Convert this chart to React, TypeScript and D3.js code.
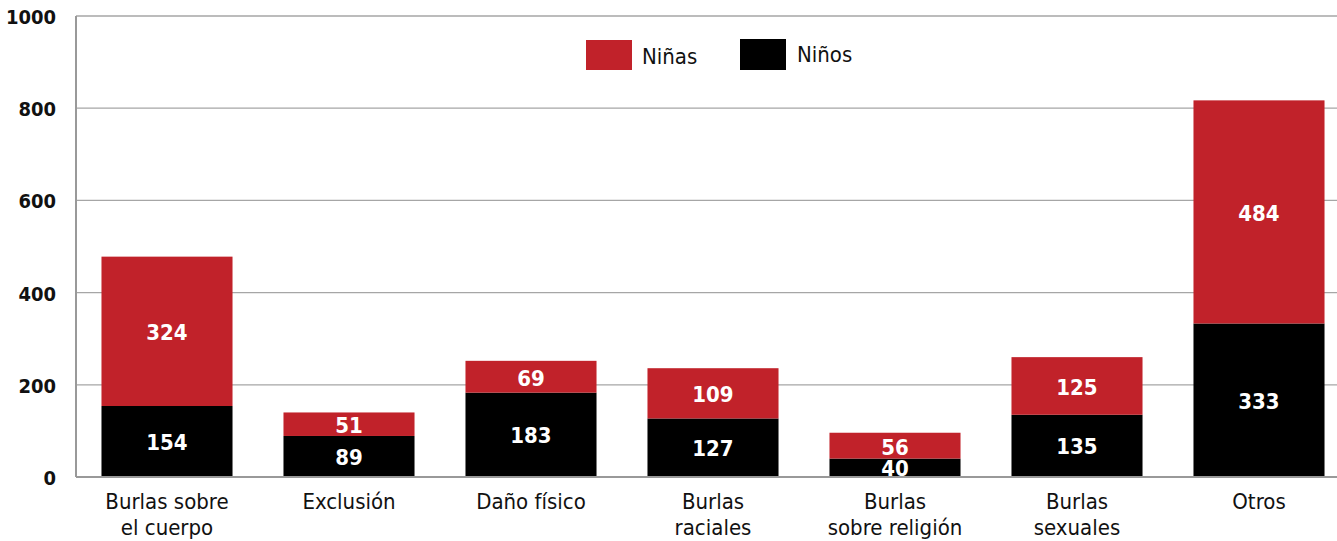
import React from "react";
import * as d3 from "d3";

const categories = [
  ["Burlas sobre", "el cuerpo"],
  ["Exclusión"],
  ["Daño físico"],
  ["Burlas", "raciales"],
  ["Burlas", "sobre religión"],
  ["Burlas", "sexuales"],
  ["Otros"],
];
const ninos = [154, 89, 183, 127, 40, 135, 333];
const ninas = [324, 51, 69, 109, 56, 125, 484];
const yTicks = [0, 200, 400, 600, 800, 1000];
const seriesNames = ["Niñas", "Niños"];

const W = 1337;
const H = 541;
const RED = "#c1222a";
const FONT = "'DejaVu Sans Condensed', 'Liberation Sans Narrow', sans-serif";

export default function App() {
  const x = d3
    .scaleBand<number>()
    .domain(d3.range(categories.length))
    .range([76, 1350])
    .paddingInner(0.28)
    .paddingOuter(0.14);
  const y = d3.scaleLinear().domain([0, 1000]).range([477, 16]);

  return (
    <svg
      width={W}
      height={H}
      style={{ position: "absolute", left: 0, top: 0, display: "block" }}
      fontFamily={FONT}
    >
      {yTicks.map((t) => (
        <g key={t}>
          {t > 0 && (
            <line x1={76} x2={W} y1={y(t)} y2={y(t)} stroke="#a6a6a6" strokeWidth={1.3} />
          )}
          <text
            x={56}
            y={y(t) + 1}
            dy="0.35em"
            textAnchor="end"
            fontSize={20}
            fontWeight="bold"
            fill="#111"
          >
            {t}
          </text>
        </g>
      ))}
      <line x1={76} x2={76} y1={y(1000)} y2={y(0)} stroke="#999" strokeWidth={2} />
      {categories.map((c, i) => {
        const x0 = x(i)!;
        const bw = x.bandwidth();
        const yb = y(ninos[i]);
        const yt = y(ninos[i] + ninas[i]);
        return (
          <g key={i}>
            <rect x={x0} y={yb} width={bw} height={y(0) - yb} fill="#000" />
            <rect x={x0} y={yt} width={bw} height={yb - yt} fill={RED} />
            <text
              x={x0 + bw / 2}
              y={(yb + y(0)) / 2}
              dy="0.38em"
              textAnchor="middle"
              fill="#fff"
              fontSize={22}
              fontWeight="bold"
            >
              {ninos[i]}
            </text>
            <text
              x={x0 + bw / 2}
              y={(yt + yb) / 2 + 1}
              dy="0.36em"
              textAnchor="middle"
              fill="#fff"
              fontSize={22}
              fontWeight="bold"
            >
              {ninas[i]}
            </text>
            {c.map((line, j) => (
              <text
                key={j}
                x={x0 + bw / 2}
                y={509 + j * 26}
                textAnchor="middle"
                fontSize={22}
                fill="#111"
              >
                {line}
              </text>
            ))}
          </g>
        );
      })}
      <line x1={76} x2={W} y1={y(0)} y2={y(0)} stroke="#999" strokeWidth={2} />
      <rect x={586} y={40} width={46} height={30} fill={RED} />
      <text x={642} y={56} dy="0.35em" fontSize={22} fill="#111">
        {seriesNames[0]}
      </text>
      <rect x={740} y={39} width={46} height={31} fill="#000" />
      <text x={797} y={54} dy="0.35em" fontSize={22} fill="#111">
        {seriesNames[1]}
      </text>
    </svg>
  );
}
